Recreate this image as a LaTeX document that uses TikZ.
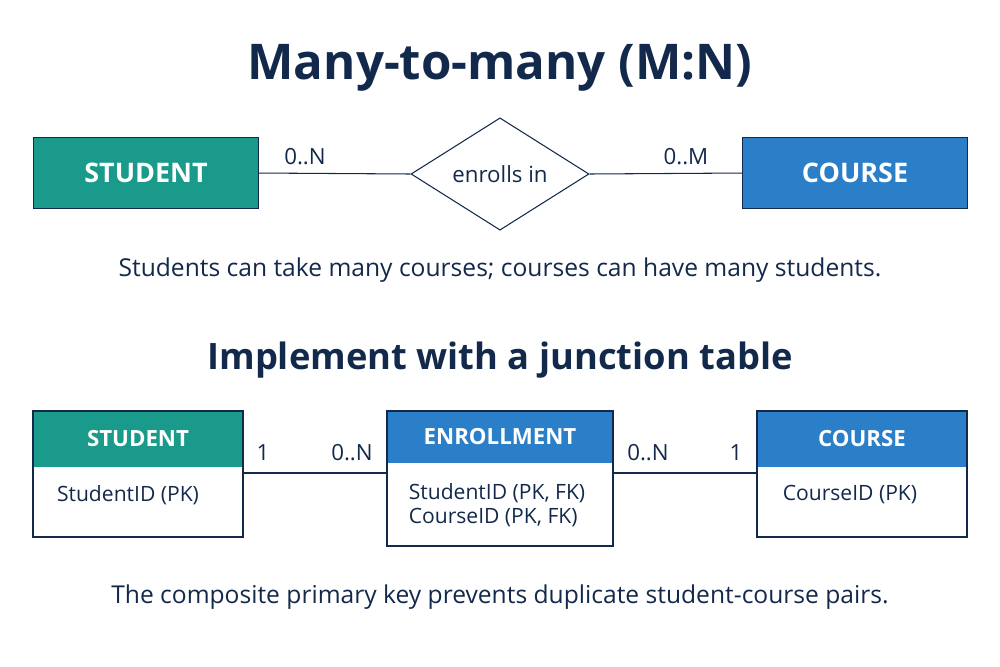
\documentclass[tikz,border=0pt]{standalone}
\usepackage{fontspec}
\setmainfont{Open Sans}
\usetikzlibrary{shapes.geometric,positioning}
\definecolor{navy}{HTML}{13294B}
\definecolor{teal}{HTML}{1A9A8A}
\definecolor{blue}{HTML}{2B7FC8}
\newcommand{\fs}[1]{\fontsize{#1}{#1}\selectfont}
\begin{document}
\begin{tikzpicture}[x=0.3mm,y=-0.3mm,
    every node/.style={text=navy},
    heading/.style={font=\fs{42}\bfseries},
    subhead/.style={font=\fs{31}\bfseries},
    caption/.style={font=\fs{21}},
    card/.style={anchor=north west,draw=navy,line width=0.9pt,minimum width=#1*0.3mm},
    entity/.style={font=\fs{23}\bfseries,text=white,minimum height=71*0.3mm},
    header/.style={font=\fs{19}\bfseries,text=white,inner sep=0pt},
    field/.style={font=\fs{18},align=left},
    card label/.style={font=\fs{19}},
    link/.style={draw=navy,line width=0.9pt}]
    \useasboundingbox (0,0) rectangle (1000,667);

    % conceptual view
    \node[heading] (title) at (500,68) {Many-to-many (M:N)};
    \node[card=225,entity,fill=teal] (student) at (33,137) {STUDENT};
    \node[card=225,entity,fill=blue] (course) at (742,137) {COURSE};
    \node[diamond,draw=navy,line width=0.9pt,minimum width=178*0.3mm,minimum height=110*0.3mm,
          inner sep=0pt,font=\fs{19}] (enrolls) at (500,174) {enrolls in};
    \draw[link] (student.east) -- (enrolls.west);
    \draw[link] (enrolls.east) -- (course.west);
    \node[card label] (cs) at (305,157) {0..N};
    \node[card label] (cc) at (686,157) {0..M};
    \node[caption] (note1) at (500,270) {Students can take many courses; courses can have many students.};

    % physical view
    \node[subhead] (title2) at (500,360) {Implement with a junction table};

    \fill[teal] (33,411) rectangle (243,467);
    \node[header] (sthead) at (138,439) {STUDENT};
    \draw[navy,line width=0.9pt] (33,411) rectangle (243,537);
    \node[field] (stid) at (128,495) {StudentID (PK)};
    \coordinate (ste) at (243,473);

    \fill[blue] (387,411) rectangle (613,463);
    \node[header] (enhead) at (500,437) {ENROLLMENT};
    \draw[navy,line width=0.9pt] (387,411) rectangle (613,546);
    \node[field] (enf) at (497,505) {StudentID (PK, FK)\\[3pt]CourseID (PK, FK)};
    \coordinate (enw) at (387,473);
    \coordinate (ene) at (613,473);

    \fill[blue] (757,411) rectangle (967,467);
    \node[header] (cohead) at (862,439) {COURSE};
    \draw[navy,line width=0.9pt] (757,411) rectangle (967,537);
    \node[field] (coid) at (850,495) {CourseID (PK)};
    \coordinate (cow) at (757,473);

    \draw[link] (ste) -- (enw);
    \draw[link] (ene) -- (cow);
    \node[card label] (l1) at (263,453) {1};
    \node[card label] (l2) at (352,453) {0..N};
    \node[card label] (l3) at (648,453) {0..N};
    \node[card label] (l4) at (736,453) {1};

    \node[caption] (note2) at (500,597) {The composite primary key prevents duplicate student-course pairs.};
\end{tikzpicture}
\end{document}
